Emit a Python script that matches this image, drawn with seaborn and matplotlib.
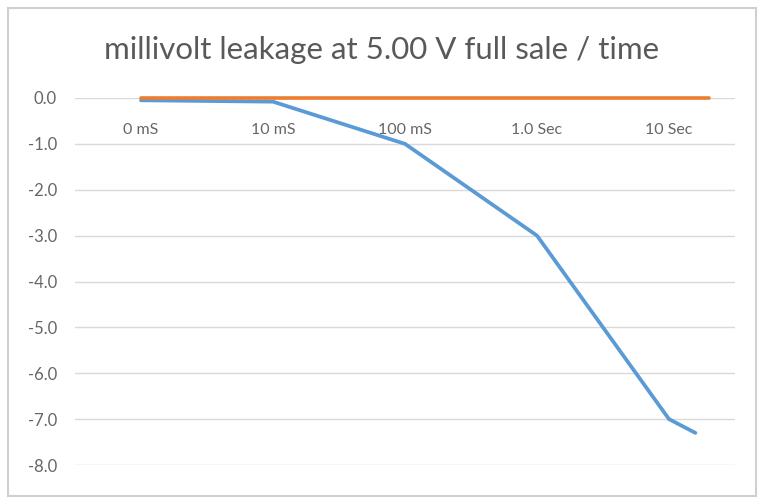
import matplotlib
matplotlib.use("Agg")
import matplotlib.pyplot as plt
import seaborn as sns
import pandas as pd
from matplotlib.patches import Rectangle

# category labels on the time axis
time_labels = ["0 mS", "10 mS", "100 mS", "1.0 Sec", "10 Sec"]

# leakage series (mV), x given as category index
leak_x = [0, 1, 2, 3, 4, 4.2]
leak_mv = [-0.05, -0.08, -1.0, -3.0, -7.0, -7.3]

# reference series, flat at zero
ref_x = [0, 1, 2, 3, 4, 4.3]
ref_mv = [0.0, 0.0, 0.0, 0.0, 0.0, 0.0]

y_ticks = [0.0, -1.0, -2.0, -3.0, -4.0, -5.0, -6.0, -7.0, -8.0]

sns.set_style("white")
plt.rcParams["font.family"] = ["Lato", "DejaVu Sans"]

fig = plt.figure(figsize=(7.64, 5.04), dpi=100)
ax = fig.add_axes([75 / 764, 1 - 465 / 504, 660 / 764, 367 / 504])

leak = pd.DataFrame({"x": leak_x, "mv": leak_mv})
ref = pd.DataFrame({"x": ref_x, "mv": ref_mv})

sns.lineplot(data=leak, x="x", y="mv", sort=False, color="#5B9BD5",
             linewidth=2.7, ax=ax, clip_on=False, zorder=3)
sns.lineplot(data=ref, x="x", y="mv", sort=False, color="#ED7D31",
             linewidth=2.6, ax=ax, clip_on=False, zorder=4)

ax.set_xlim(-0.5, 4.5)
ax.set_ylim(-8.0, 0.0)

ax.set_yticks(y_ticks)
ax.set_yticklabels([f"{v:.1f}" for v in y_ticks])
ax.tick_params(axis="y", length=0, pad=13, labelsize=12, labelcolor="#666666")

# category labels sit just under the zero line
ax.xaxis.tick_top()
ax.set_xticks(range(len(time_labels)))
ax.set_xticklabels(time_labels)
ax.tick_params(axis="x", length=0, pad=-28, labelsize=11.5, labelcolor="#666666")

ax.grid(axis="y", color="#d9d9d9", linewidth=1)
ax.grid(axis="x", visible=False)
for s in ax.spines.values():
    s.set_visible(False)
ax.set_xlabel("")
ax.set_ylabel("")

fig.text(0.5, 1 - 50 / 504, "millivolt leakage at 5.00 V full sale / time",
         ha="center", va="center", fontsize=22.5, color="#595959")

# chart border
fig.patches.append(Rectangle((8 / 764, 8 / 504), 748 / 764, 488 / 504,
                             transform=fig.transFigure, fill=False,
                             edgecolor="#d0d0d0", linewidth=1.5))

fig.savefig("out.png", dpi=100, facecolor="white")
